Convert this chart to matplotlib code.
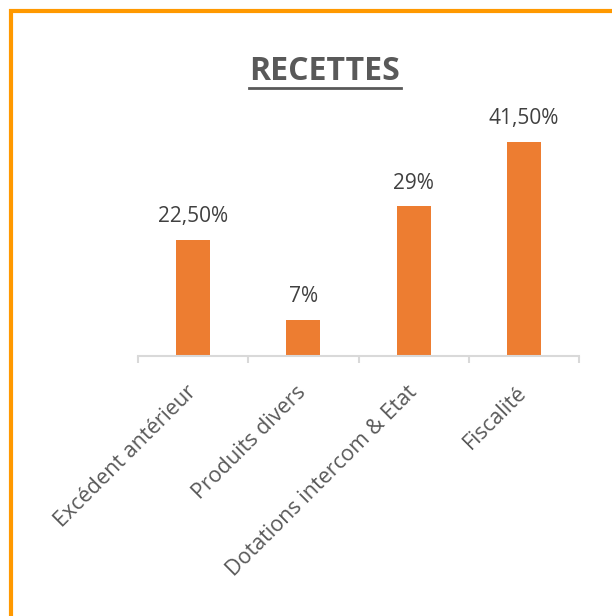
import matplotlib.pyplot as plt
from matplotlib.patches import Rectangle
from matplotlib.lines import Line2D

categories = ['Excédent antérieur', 'Produits divers', 'Dotations intercom & Etat', 'Fiscalité']
values = [22.5, 7, 29, 41.5]
value_labels = ['22,50%', '7%', '29%', '41,50%']
title = 'RECETTES'

plt.rcParams['font.family'] = ['Open Sans', 'DejaVu Sans']

fig = plt.figure(figsize=(6.12, 6.16), dpi=100)
W, H = 612, 616

# axes placed in pixel terms
left, right, bottom, top = 138, 579, 356, 130
ax = fig.add_axes([left / W, 1 - bottom / H, (right - left) / W, (bottom - top) / H])

x = list(range(len(categories)))
bars = ax.bar(x, values, width=0.31, color='#ED7D31')

ax.set_xlim(-0.5, len(categories) - 0.5)
ax.set_ylim(0, (bottom - top) / 5.16)

for b, lab in zip(bars, value_labels):
    ax.annotate(lab, (b.get_x() + b.get_width() / 2, b.get_height()),
                xytext=(0, 9), textcoords='offset points',
                ha='center', va='bottom', fontsize=15, color='#404040')

for s in ['top', 'right', 'left']:
    ax.spines[s].set_visible(False)
ax.spines['bottom'].set_color('#D9D9D9')
ax.spines['bottom'].set_linewidth(1.5)
ax.set_yticks([])

ax.set_xticks(x)
ax.set_xticklabels(categories, rotation=45, ha='right', va='center',
                   rotation_mode='anchor', fontsize=15.5, color='#595959')
ax.tick_params(axis='x', which='major', length=0, pad=24)
ax.set_xticks([i - 0.5 for i in range(len(categories) + 1)], minor=True)
ax.tick_params(axis='x', which='minor', length=5, width=1.5, color='#D9D9D9')

# title with underline
t = fig.text(324 / W, 1 - 71 / H, title, ha='center', va='center',
             fontsize=23, fontweight='bold', color='#595959')
fig.add_artist(Line2D([249 / W, 401 / W], [1 - 88 / H, 1 - 88 / H],
                      transform=fig.transFigure, color='#595959', linewidth=2))

# orange frame (runs off the right and bottom edges)
fig.add_artist(Rectangle((10.5 / W, -0.05), 1.1, 1 - 10.5 / H + 0.05,
                         transform=fig.transFigure, fill=False,
                         edgecolor='#FF9900', linewidth=3))

fig.savefig('out.png', dpi=100)
